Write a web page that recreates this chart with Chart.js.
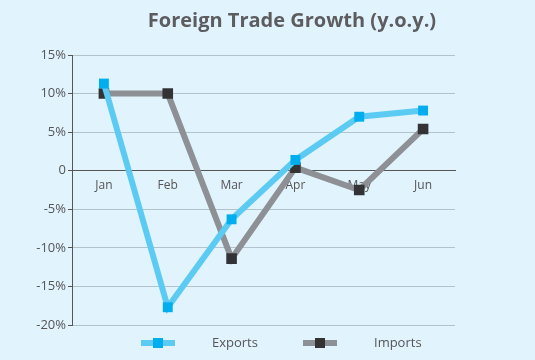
<!DOCTYPE html>
<html>
<head>
<meta charset="utf-8">
<script src="https://cdn.jsdelivr.net/npm/chart.js@4/dist/chart.umd.min.js"></script>
<style>
  html, body { margin: 0; padding: 0; background: #e1f3fd; }
  #wrap { position: relative; width: 535px; height: 360px; }
</style>
</head>
<body>
<div id="wrap"><canvas id="tradeChart" width="535" height="360"></canvas></div>
<script>
// Datos del gráfico
const months = ['Jan', 'Feb', 'Mar', 'Apr', 'May', 'Jun'];
const exportsGrowth = [11.3, -17.7, -6.3, 1.4, 7.0, 7.8];
const importsGrowth = [10.0, 10.0, -11.4, 0.4, -2.5, 5.4];
const yTicks = [15, 10, 5, 0, -5, -10, -15, -20];
const chartTitle = 'Foreign Trade Growth (y.o.y.)';

// Título dibujado a mano (no va centrado sobre el lienzo)
const titlePlugin = {
  id: 'titlePlugin',
  afterDraw(chart) {
    const ctx = chart.ctx;
    ctx.save();
    ctx.font = 'bold 20px "Open Sans", sans-serif';
    ctx.fillStyle = '#5d5d60';
    ctx.textAlign = 'center';
    ctx.textBaseline = 'middle';
    ctx.fillText(chartTitle, 292, 21);
    ctx.restore();
  }
};

// Leyenda: línea gruesa con marcador cuadrado
const legendPlugin = {
  id: 'legendPlugin',
  afterDraw(chart) {
    const ctx = chart.ctx;
    const y = 343;
    const starts = [141, 303];
    ctx.save();
    chart.data.datasets.forEach((ds, i) => {
      const x = starts[i];
      ctx.fillStyle = ds.borderColor;
      ctx.fillRect(x, y - 3, 34, 6);
      ctx.fillStyle = ds.pointBackgroundColor;
      ctx.fillRect(x + 12, y - 5, 10, 10);
      ctx.font = '13px "Open Sans", sans-serif';
      ctx.fillStyle = '#555';
      ctx.textAlign = 'left';
      ctx.textBaseline = 'middle';
      ctx.fillText(ds.label, x + 71, y);
    });
    ctx.restore();
  }
};

const ctx = document.getElementById('tradeChart').getContext('2d');
const tradeChart = new Chart(ctx, {
  type: 'line',
  data: {
    labels: months,
    datasets: [{
      label: 'Exports',
      data: exportsGrowth,
      borderColor: '#5ccbf3',
      backgroundColor: '#00aeef',
      pointBackgroundColor: '#00aeef',
      pointBorderWidth: 0,
      pointStyle: 'rect',
      pointRadius: 7,
      borderWidth: 6,
      tension: 0
    }, {
      label: 'Imports',
      data: importsGrowth,
      borderColor: '#8d9094',
      backgroundColor: '#333335',
      pointBackgroundColor: '#333335',
      pointBorderWidth: 0,
      pointStyle: 'rect',
      pointRadius: 7.5,
      borderWidth: 6,
      tension: 0
    }]
  },
  options: {
    responsive: false,
    animation: false,
    layout: { padding: { left: 0, right: 80, top: 55, bottom: 35 } },
    plugins: {
      legend: { display: false },
      title: { display: false },
      tooltip: { enabled: false }
    },
    scales: {
      x: {
        position: { y: 0 },
        offset: true,
        grid: { display: false },
        border: { display: true, color: '#555', width: 1 },
        ticks: {
          color: '#555',
          font: { family: '"Open Sans", sans-serif', size: 12 },
          padding: 0
        }
      },
      y: {
        min: -20,
        max: 15,
        afterFit(scale) { scale.width = 72; },
        afterBuildTicks(scale) { scale.ticks = yTicks.map(v => ({ value: v })); },
        grid: { color: '#b3c3cc', tickColor: '#555', tickLength: 4 },
        border: { display: true, color: '#555', width: 1 },
        ticks: {
          color: '#555',
          font: { family: '"Open Sans", sans-serif', size: 13 },
          padding: 2,
          callback: v => v === 0 ? '0' : v + '%'
        }
      }
    }
  },
  plugins: [titlePlugin, legendPlugin]
});
</script>
</body>
</html>
